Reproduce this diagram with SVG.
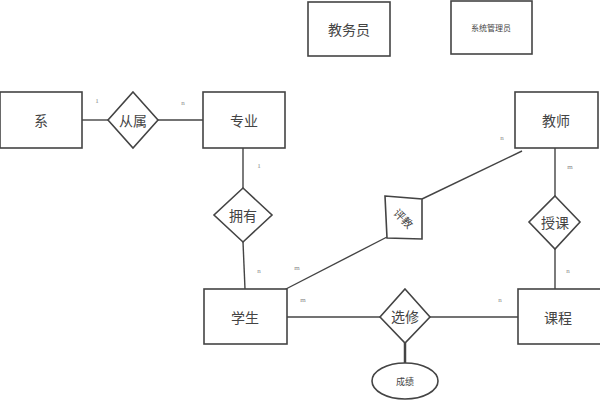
<svg xmlns="http://www.w3.org/2000/svg" width="600" height="400" viewBox="0 0 600 400">
<style>
.box{fill:#fff;stroke:#444;stroke-width:1.6}
.ln{stroke:#444;stroke-width:1.4;fill:none}
.t{font-family:"Noto Sans CJK SC","Liberation Sans",sans-serif;font-size:14px;fill:#444;text-anchor:middle;dominant-baseline:central}
.s{font-family:"Liberation Serif",serif;font-size:7px;fill:#888;text-anchor:middle;dominant-baseline:central}
</style>
<rect width="600" height="400" fill="#fff"/>
<g id="connectors">
<line class="ln" x1="82" y1="120" x2="108" y2="120"/>
<line class="ln" x1="158" y1="120" x2="203" y2="120"/>
<line class="ln" x1="243" y1="148" x2="243" y2="188"/>
<line class="ln" x1="243" y1="242" x2="245" y2="289"/>
<line class="ln" x1="422" y1="199" x2="522" y2="151"/>
<line class="ln" x1="387" y1="237" x2="284" y2="290"/>
<line class="ln" x1="555" y1="148" x2="555" y2="196"/>
<line class="ln" x1="555" y1="249" x2="555" y2="289"/>
<line class="ln" x1="287" y1="317" x2="380" y2="317"/>
<line class="ln" x1="430" y1="317" x2="518" y2="317"/>
<line class="ln" x1="405" y1="343" x2="405" y2="363" style="stroke-width:2.5"/>
</g>
<g id="labels">
<text class="s" x="97" y="101">1</text>
<text class="s" x="183" y="103">n</text>
<text class="s" x="259" y="166">1</text>
<text class="s" x="259" y="271">n</text>
<text class="s" x="297" y="268">m</text>
<text class="s" x="303" y="300">m</text>
<text class="s" x="500" y="300">n</text>
<text class="s" x="568" y="271">n</text>
<text class="s" x="570" y="167">m</text>
<text class="s" x="502" y="138">n</text>
</g>
<g id="xi"><rect class="box" x="0" y="92" width="82" height="56"/><text class="t" x="41" y="120">系</text></g>
<g id="congshu"><polygon class="box" points="133,92 158,120 133,148 108,120"/><text class="t" x="133" y="120">从属</text></g>
<g id="zhuanye"><rect class="box" x="203" y="92" width="82" height="56"/><text class="t" x="244" y="120">专业</text></g>
<g id="jiaowuyuan"><rect class="box" x="308" y="2" width="82" height="54"/><text class="t" x="349" y="29">教务员</text></g>
<g id="xitongguanliyuan"><rect class="box" x="451" y="1" width="81" height="53"/><text class="t" x="491" y="27" style="font-size:8px">系统管理员</text></g>
<g id="jiaoshi"><rect class="box" x="515" y="92" width="83" height="56"/><text class="t" x="556" y="120">教师</text></g>
<g id="yongyou"><polygon class="box" points="243,188 272,215 243,242 214,215"/><text class="t" x="243" y="215">拥有</text></g>
<g id="pingjiao"><polygon class="box" points="385,196 422,199 422,239 387,238"/><text class="t" x="404" y="218" style="font-size:11px" transform="rotate(45 404 218)">评教</text></g>
<g id="shouke"><polygon class="box" points="555,196 580,222 555,249 529,222"/><text class="t" x="555" y="222">授课</text></g>
<g id="xuesheng"><rect class="box" x="204" y="289" width="83" height="55"/><text class="t" x="245" y="317">学生</text></g>
<g id="xuanxiu"><polygon class="box" points="405,289 430,317 405,343 380,317"/><text class="t" x="405" y="316">选修</text></g>
<g id="kecheng"><rect class="box" x="518" y="289" width="84" height="55"/><text class="t" x="558" y="317">课程</text></g>
<g id="chengji"><ellipse class="box" cx="405" cy="381" rx="33" ry="18"/><text class="t" x="405" y="381" style="font-size:9px">成绩</text></g>
</svg>
